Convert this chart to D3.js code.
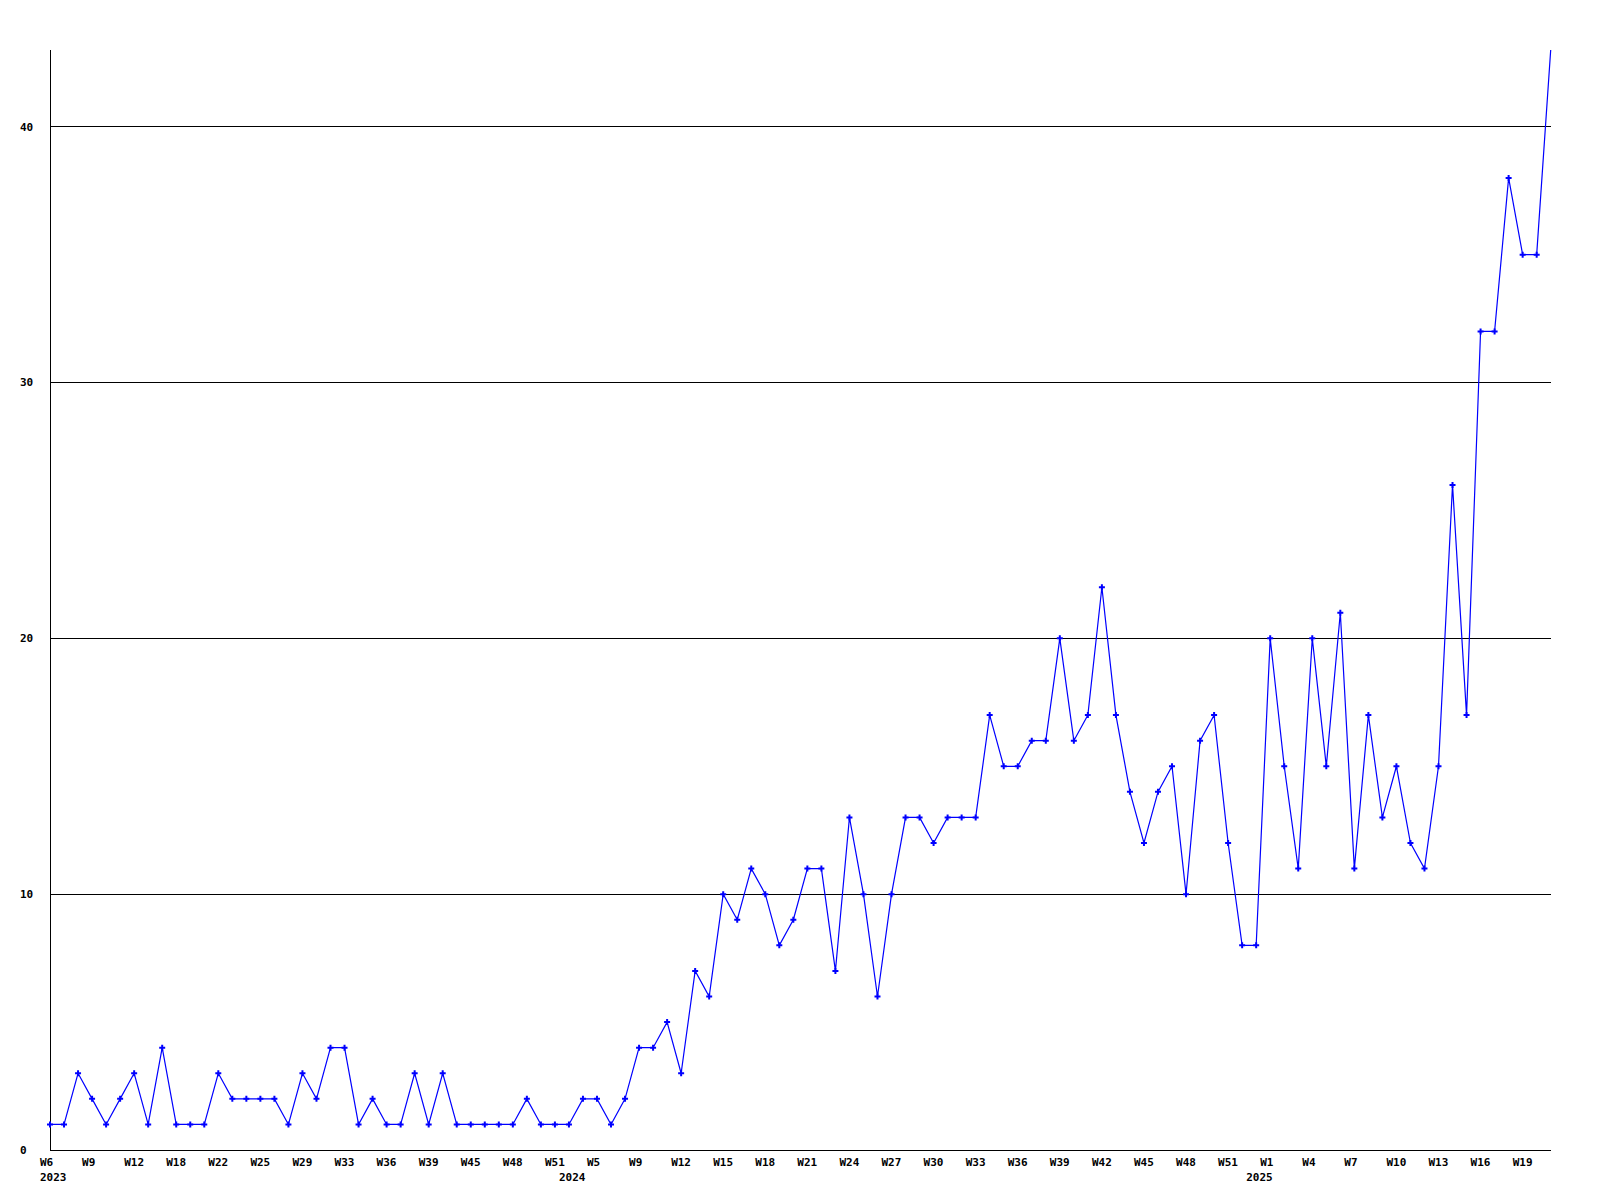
<!DOCTYPE html>
<html>
<head>
<meta charset="utf-8">
<script src="https://cdn.jsdelivr.net/npm/d3@7"></script>
<style>
  html, body { margin: 0; padding: 0; background: #fff; }
  svg { display: block; }
  text { font-family: "DejaVu Sans Mono", "Liberation Mono", monospace; font-weight: bold; font-size: 11px; fill: #000; }
</style>
</head>
<body>
<svg id="chart" width="1600" height="1200"></svg>
<script>
// Weekly counts, one value per point (2023 W6 .. 2025 W20)
const values = [
  1, 1, 3, 2, 1, 2, 3, 1, 4, 1,
  1, 1, 3, 2, 2, 2, 2, 1, 3, 2,
  4, 4, 1, 2, 1, 1, 3, 1, 3, 1,
  1, 1, 1, 1, 2, 1, 1, 1, 2, 2,
  1, 2, 4, 4, 5, 3, 7, 6, 10, 9,
  11, 10, 8, 9, 11, 11, 7, 13, 10, 6,
  10, 13, 13, 12, 13, 13, 13, 17, 15, 15,
  16, 16, 20, 16, 17, 22, 17, 14, 12, 14,
  15, 10, 16, 17, 12, 8, 8, 20, 15, 11,
  20, 15, 21, 11, 17, 13, 15, 12, 11, 15,
  26, 17, 32, 32, 38, 35, 35, 43
];
// Week tick labels, shown every 3rd point
const weekLabels = [
  "W6", "W9", "W12", "W18", "W22", "W25", "W29", "W33", "W36", "W39", "W45", "W48",
  "W51", "W5", "W9", "W12", "W15", "W18", "W21", "W24", "W27", "W30", "W33", "W36",
  "W39", "W42", "W45", "W48", "W51", "W1", "W4", "W7", "W10", "W13", "W16", "W19"
];
const weekLabelStep = 3;
// Year labels and the point index they sit under
const yearLabels = ["2023", "2024", "2025"];
const yearIndex = [0, 37, 86];
const yTicks = [0, 10, 20, 30, 40];
const yMax = 43;

const svg = d3.select("#chart");
const plotLeft = 50, plotRight = 1550.7, plotTop = 50, plotBottom = 1150;

const x = d3.scaleLinear().domain([0, values.length - 1]).range([plotLeft, plotRight]);
const y = d3.scaleLinear().domain([0, yMax]).range([plotBottom, plotTop]);

// Horizontal grid lines
svg.append("g").selectAll("line")
  .data(yTicks.filter(d => d > 0))
  .join("line")
  .attr("x1", plotLeft).attr("x2", plotRight + 0.3)
  .attr("y1", d => Math.floor(y(d)) + 0.5).attr("y2", d => Math.floor(y(d)) + 0.5)
  .attr("stroke", "#000").attr("stroke-width", 1).attr("shape-rendering", "crispEdges");

// Axis lines
svg.append("line")
  .attr("x1", plotLeft + 0.5).attr("x2", plotLeft + 0.5)
  .attr("y1", plotTop).attr("y2", plotBottom + 1)
  .attr("stroke", "#000").attr("shape-rendering", "crispEdges");
svg.append("line")
  .attr("x1", plotLeft).attr("x2", plotRight + 0.3)
  .attr("y1", plotBottom + 0.5).attr("y2", plotBottom + 0.5)
  .attr("stroke", "#000").attr("shape-rendering", "crispEdges");

// Y labels
svg.append("g").selectAll("text")
  .data(yTicks)
  .join("text")
  .attr("x", 20)
  .attr("y", d => y(d))
  .attr("dy", "0.35em")
  .attr("text-anchor", "start")
  .text(d => d);

// X labels
svg.append("g").selectAll("text")
  .data(weekLabels)
  .join("text")
  .attr("x", (d, i) => x(i * weekLabelStep) - 10)
  .attr("y", 1166)
  .attr("text-anchor", "start")
  .text(d => d);

svg.append("g").selectAll("text")
  .data(yearLabels)
  .join("text")
  .attr("x", (d, i) => x(yearIndex[i]) - 10)
  .attr("y", 1181)
  .attr("text-anchor", "start")
  .text(d => d);

// Line
const line = d3.line().x((d, i) => x(i)).y(d => y(d));
svg.append("path")
  .datum(values)
  .attr("d", line)
  .attr("fill", "none")
  .attr("stroke", "#0000ff")
  .attr("stroke-width", 1.2);

// Markers (last point sits on the top edge and shows no marker)
svg.append("g").selectAll("path")
  .data(values.slice(0, values.length - 1))
  .join("path")
  .attr("transform", (d, i) => `translate(${x(i)},${y(d)})`)
  .attr("d", d3.symbol().type(d3.symbolCross).size(20))
  .attr("fill", "#0000ff");
</script>
</body>
</html>
